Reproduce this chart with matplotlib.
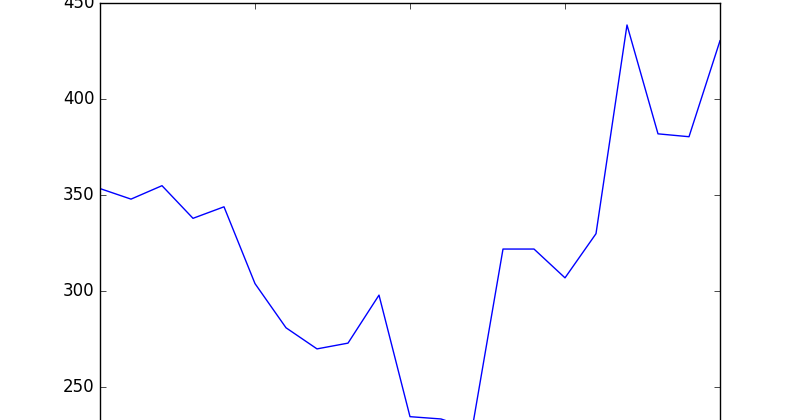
import matplotlib
matplotlib.use('Agg')
import matplotlib.pyplot as plt

plt.style.use('classic')

x_values = list(range(21))
y_values = [353.5, 348, 355, 338, 344, 304, 281, 270, 273, 298,
            234.7, 233.5, 228, 322, 322, 307, 330, 438.7, 382, 380.5, 430.5]

fig = plt.figure(figsize=(8, 4.2), dpi=100, facecolor='white')
# the axes run past the bottom edge, as in the reference crop
ax = fig.add_axes([0.125, -0.1507, 0.775, 1.1429])
ax.plot(x_values, y_values, color='blue', linewidth=1)
ax.set_xlim(0, 20)
ax.set_ylim(200, 450)
ax.set_xticks([0, 5, 10, 15, 20])
ax.set_yticks([250, 300, 350, 400, 450])
# bottom tick labels fall outside the picture, so none are drawn
ax.tick_params(axis='x', labelbottom=False)

fig.savefig('out.png', dpi=100, facecolor='white')
